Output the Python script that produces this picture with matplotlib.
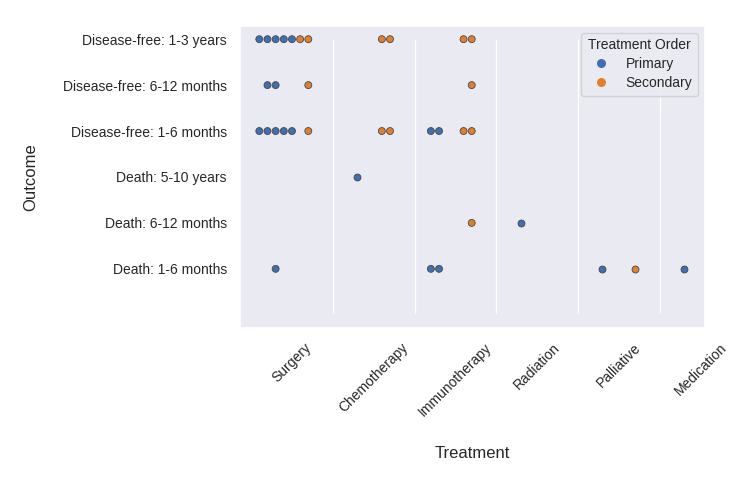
import matplotlib
matplotlib.use('Agg')
import matplotlib.pyplot as plt
from matplotlib.lines import Line2D
import seaborn as sns
import pandas as pd

treatments = ['Surgery', 'Chemotherapy', 'Immunotherapy', 'Radiation', 'Palliative', 'Medication']
outcomes = ['Disease-free: 1-3 years', 'Disease-free: 6-12 months', 'Disease-free: 1-6 months',
            'Death: 5-10 years', 'Death: 6-12 months', 'Death: 1-6 months']
orders = ['Primary', 'Secondary']
colors = ['#3f6fae', '#e07f30']

# (treatment, outcome, order, number of patients)
rec_treatment = ['Surgery', 'Surgery', 'Surgery', 'Surgery', 'Surgery', 'Surgery', 'Surgery',
                 'Chemotherapy', 'Chemotherapy', 'Chemotherapy',
                 'Immunotherapy', 'Immunotherapy', 'Immunotherapy', 'Immunotherapy', 'Immunotherapy', 'Immunotherapy',
                 'Radiation', 'Palliative', 'Palliative', 'Medication']
rec_outcome = ['Disease-free: 1-3 years', 'Disease-free: 1-3 years', 'Disease-free: 6-12 months',
               'Disease-free: 6-12 months', 'Disease-free: 1-6 months', 'Disease-free: 1-6 months',
               'Death: 1-6 months',
               'Disease-free: 1-3 years', 'Disease-free: 1-6 months', 'Death: 5-10 years',
               'Disease-free: 1-3 years', 'Disease-free: 6-12 months', 'Disease-free: 1-6 months',
               'Disease-free: 1-6 months', 'Death: 6-12 months', 'Death: 1-6 months',
               'Death: 6-12 months', 'Death: 1-6 months', 'Death: 1-6 months', 'Death: 1-6 months']
rec_order = ['Primary', 'Secondary', 'Primary', 'Secondary', 'Primary', 'Secondary', 'Primary',
             'Secondary', 'Secondary', 'Primary',
             'Secondary', 'Secondary', 'Primary', 'Secondary', 'Secondary', 'Primary',
             'Primary', 'Primary', 'Secondary', 'Primary']
rec_count = [5, 2, 2, 1, 5, 1, 1,
             2, 2, 1,
             2, 1, 2, 2, 1, 2,
             1, 1, 1, 1]

rows = []
for t, o, r, n in zip(rec_treatment, rec_outcome, rec_order, rec_count):
  rows += [(t, outcomes.index(o), r)] * n
df = pd.DataFrame(rows, columns=['Treatment', 'Outcome', 'Treatment Order'])

sns.set_theme(style='darkgrid')
plt.rcParams['font.family'] = ['Liberation Sans', 'DejaVu Sans']

fig = plt.figure(figsize=(7.5, 4.79), dpi=100)
ax = fig.add_axes([0.32, 0.316, 0.62, 0.63])

sns.swarmplot(data=df, x='Treatment', y='Outcome', hue='Treatment Order',
              order=treatments, hue_order=orders, dodge=True, size=5,
              linewidth=0.6, edgecolor='gray', palette=colors, ax=ax, legend=False)

ax.grid(False)
ax.vlines([i + 0.5 for i in range(len(treatments) - 1)], 0, 5.96, color='white', lw=0.9, zorder=0)
ax.set_xlim(-0.636, 5.055)
ax.set_ylim(6.28, -0.29)
ax.set_yticks(range(len(outcomes)))
ax.set_yticklabels(outcomes, fontsize=10)
ax.set_xticks(range(len(treatments)))
ax.set_xticklabels(treatments, fontsize=10, rotation=45)
ax.set_xlabel('Treatment', fontsize=12, labelpad=19)
ax.set_ylabel('Outcome', fontsize=12, labelpad=18)

handles = [Line2D([], [], ls='', marker='o', markersize=6.5, markerfacecolor=c,
                  markeredgewidth=0) for c in colors]
ax.legend(handles, orders, title='Treatment Order', loc='upper right', fontsize=10,
          title_fontsize=10, labelspacing=0.35, handletextpad=0.8)

fig.savefig('out.png', dpi=100)
